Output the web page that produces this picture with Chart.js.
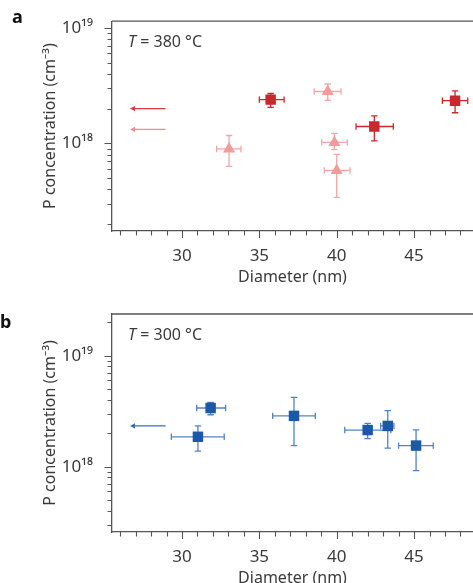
<!DOCTYPE html>
<html>
<head>
<meta charset="utf-8">
<script src="https://cdn.jsdelivr.net/npm/chart.js@4.4.1/dist/chart.umd.min.js"></script>
<style>
  html, body { margin: 0; padding: 0; background: #fff; width: 473px; height: 583px; overflow: hidden; }
  .panel { position: absolute; left: 0; width: 473px; }
  #wrapA { top: 0; height: 290px; }
  #wrapB { top: 290px; height: 301px; }
</style>
</head>
<body>
<div class="panel" id="wrapA"><canvas id="chartA" width="473" height="290"></canvas></div>
<div class="panel" id="wrapB"><canvas id="chartB" width="473" height="301"></canvas></div>
<script>
// ---- shared axis ticks ----
const diameterTicks = [26, 27, 28, 29, 30, 31, 32, 33, 34, 35, 36, 37, 38, 39, 40, 41, 42, 43, 44, 45, 46, 47, 48];
const diameterLabels = [30, 35, 40, 45];
const concDecades = [1e18, 1e19];

// ---- panel a: T = 380 °C ----
const concMinorA = [2e17, 3e17, 4e17, 5e17, 6e17, 7e17, 8e17, 9e17,
                    2e18, 3e18, 4e18, 5e18, 6e18, 7e18, 8e18, 9e18];

// squares
const sqA_d   = [35.73, 42.43, 47.65];
const sqA_dLo = [35.00, 41.25, 46.83];
const sqA_dHi = [36.60, 43.66, 48.47];
const sqA_p   = [2.39e18, 1.40e18, 2.34e18];
const sqA_pLo = [2.05e18, 1.05e18, 1.84e18];
const sqA_pHi = [2.70e18, 1.73e18, 2.85e18];

// triangles
const triA_d   = [33.04, 39.42, 39.85, 40.00];
const triA_dLo = [32.24, 38.55, 39.03, 39.20];
const triA_dHi = [33.81, 40.28, 40.68, 40.86];
const triA_p   = [8.96e17, 2.81e18, 1.02e18, 5.84e17];
const triA_pLo = [6.34e17, 2.35e18, 8.85e17, 3.42e17];
const triA_pHi = [1.17e18, 3.26e18, 1.22e18, 8.04e17];

// reference levels (arrows)
const arrowA_p = [2.0e18, 1.32e18];

// ---- panel b: T = 300 °C ----
const concMinorB = [3e17, 4e17, 5e17, 6e17, 7e17, 8e17, 9e17,
                    2e18, 3e18, 4e18, 5e18, 6e18, 7e18, 8e18, 9e18, 2e19];

const sqB_d   = [31.03, 31.85, 37.24, 42.00, 43.30, 45.13];
const sqB_dLo = [29.31, 30.95, 35.86, 40.52, 42.84, 44.00];
const sqB_dHi = [32.73, 32.82, 38.62, 43.50, 43.70, 46.24];
const sqB_p   = [1.86e18, 3.38e18, 2.87e18, 2.14e18, 2.33e18, 1.55e18];
const sqB_pLo = [1.38e18, 2.94e18, 1.55e18, 1.79e18, 1.47e18, 9.2e17];
const sqB_pHi = [2.33e18, 3.80e18, 4.22e18, 2.46e18, 3.20e18, 2.15e18];

const arrowB_p = [2.33e18];
const arrowSpan = [28.94, 26.64]; // tail, head (nm)

// ---- styling ----
const DARK_RED = '#c9282d';
const PINK = '#f29b9b';
const BLUE = '#1b58a7';
const TEXT = '#3b3b3b';
const AXIS = '#555555';
const FONT = '"Noto Sans", "Open Sans", sans-serif';

const isDecade = v => Math.abs(Math.log10(v) - Math.round(Math.log10(v))) < 1e-9;
const supers = { '0': '⁰', '1': '¹', '2': '²', '3': '³', '4': '⁴', '5': '⁵', '6': '⁶', '7': '⁷', '8': '⁸', '9': '⁹' };
const decadeLabel = v => '10' + String(Math.round(Math.log10(v))).split('').map(c => supers[c]).join('');

function makeDecor(cfg) {
  return {
    id: 'decor',
    beforeDatasetsDraw(chart) {
      const ctx = chart.ctx, xs = chart.scales.x, ys = chart.scales.y;
      cfg.bars.forEach(b => {
        ctx.save();
        ctx.strokeStyle = b.color;
        ctx.lineWidth = 1.3;
        const c = 3.2;
        for (let i = 0; i < b.d.length; i++) {
          const px = xs.getPixelForValue(b.d[i]), py = ys.getPixelForValue(b.p[i]);
          const x0 = xs.getPixelForValue(b.dLo[i]), x1 = xs.getPixelForValue(b.dHi[i]);
          const y0 = ys.getPixelForValue(b.pLo[i]), y1 = ys.getPixelForValue(b.pHi[i]);
          ctx.beginPath();
          ctx.moveTo(x0, py); ctx.lineTo(x1, py);
          ctx.moveTo(x0, py - c); ctx.lineTo(x0, py + c);
          ctx.moveTo(x1, py - c); ctx.lineTo(x1, py + c);
          ctx.moveTo(px, y0); ctx.lineTo(px, y1);
          ctx.moveTo(px - c, y0); ctx.lineTo(px + c, y0);
          ctx.moveTo(px - c, y1); ctx.lineTo(px + c, y1);
          ctx.stroke();
        }
        ctx.restore();
      });
    },
    afterDraw(chart) {
      const ctx = chart.ctx, xs = chart.scales.x, ys = chart.scales.y;
      const area = chart.chartArea;
      ctx.save();
      // frame top line
      ctx.strokeStyle = AXIS;
      ctx.lineWidth = 1.3;
      ctx.beginPath();
      ctx.moveTo(area.left, area.top); ctx.lineTo(area.right, area.top);
      ctx.stroke();
      // x tick marks
      ctx.lineWidth = 1.1;
      ctx.beginPath();
      diameterTicks.forEach(v => {
        const px = Math.round(xs.getPixelForValue(v)) + 0.5;
        const len = diameterLabels.includes(v) ? 7 : 4.5;
        ctx.moveTo(px, area.bottom); ctx.lineTo(px, area.bottom + len);
      });
      // y tick marks
      cfg.minor.forEach(v => {
        const py = Math.round(ys.getPixelForValue(v)) + 0.5;
        ctx.moveTo(area.left, py); ctx.lineTo(area.left - 4.5, py);
      });
      concDecades.forEach(v => {
        const py = Math.round(ys.getPixelForValue(v)) + 0.5;
        ctx.moveTo(area.left, py); ctx.lineTo(area.left - 7.5, py);
      });
      ctx.stroke();
      // reference-level arrows
      cfg.arrows.forEach(a => {
        const xt = xs.getPixelForValue(arrowSpan[0]), xh = xs.getPixelForValue(arrowSpan[1]);
        const py = ys.getPixelForValue(a.p);
        ctx.strokeStyle = a.color; ctx.fillStyle = a.color;
        ctx.lineWidth = 1.3;
        ctx.beginPath(); ctx.moveTo(xt, py); ctx.lineTo(xh + 3, py); ctx.stroke();
        ctx.beginPath();
        ctx.moveTo(xh, py); ctx.lineTo(xh + 5, py - 2.6); ctx.lineTo(xh + 5, py + 2.6);
        ctx.closePath(); ctx.fill();
      });
      // panel letter
      ctx.fillStyle = '#111';
      ctx.textBaseline = 'middle';
      ctx.textAlign = 'left';
      ctx.font = 'bold 18px ' + FONT;
      ctx.fillText(cfg.letter, cfg.letterX, cfg.letterY);
      // temperature note
      ctx.fillStyle = TEXT;
      ctx.font = 'italic 16px ' + FONT;
      const tx = area.left + 16, ty = area.top + 21;
      ctx.fillText('T', tx, ty);
      const w = ctx.measureText('T').width;
      ctx.font = '16px ' + FONT;
      ctx.fillText(' = ' + cfg.temp + ' °C', tx + w, ty);
      ctx.restore();
    }
  };
}

function makeChart(id, cfg) {
  const datasets = cfg.series.map(s => ({
    data: s.d.map((d, i) => ({ x: d, y: s.p[i] })),
    pointStyle: s.style,
    pointRadius: s.radius,
    pointHoverRadius: s.radius,
    backgroundColor: s.color,
    borderColor: s.color,
    borderWidth: 0,
    showLine: false
  }));
  return new Chart(document.getElementById(id), {
    type: 'scatter',
    data: { datasets },
    plugins: [makeDecor(cfg)],
    options: {
      responsive: false,
      animation: false,
      events: [],
      layout: { autoPadding: false, padding: { left: 38, top: cfg.padTop, right: 0, bottom: 0 } },
      plugins: { legend: { display: false }, tooltip: { enabled: false } },
      scales: {
        x: {
          type: 'linear',
          min: 25.475,
          max: 48.81,
          afterBuildTicks: s => { s.ticks = diameterTicks.map(v => ({ value: v })); },
          afterFit: s => { s.height = 59; },
          grid: { display: false },
          border: { display: true, color: AXIS, width: 1.3 },
          ticks: {
            autoSkip: false, maxRotation: 0,
            padding: 7,
            color: TEXT,
            font: { family: FONT, size: 17 },
            callback: v => diameterLabels.includes(v) ? String(v) : ''
          },
          title: {
            display: true, text: 'Diameter (nm)', color: TEXT,
            font: { family: FONT, size: 16 },
            padding: { top: 0, bottom: 3 }
          }
        },
        y: {
          type: 'logarithmic',
          min: cfg.yMin,
          max: cfg.yMax,
          afterBuildTicks: s => { s.ticks = cfg.minor.concat(concDecades).sort((a, b) => a - b).map(v => ({ value: v })); },
          afterFit: s => { s.width = 74; },
          grid: { display: false },
          border: { display: true, color: AXIS, width: 1.3 },
          ticks: {
            autoSkip: false,
            padding: 11,
            color: TEXT,
            font: { family: FONT, size: 17 },
            callback: v => isDecade(v) ? decadeLabel(v) : ''
          },
          title: {
            display: true, text: 'P concentration (cm⁻³)', color: TEXT,
            font: { family: FONT, size: 16 },
            padding: { top: 3, bottom: 0 }
          }
        }
      }
    }
  });
}

makeChart('chartA', {
  letter: 'a', letterX: 12, letterY: 18,
  temp: '380',
  padTop: 14,
  yMin: 1.75e17, yMax: 1.138e19,
  minor: concMinorA,
  series: [
    { d: triA_d, p: triA_p, style: 'triangle', radius: 7, color: PINK },
    { d: sqA_d, p: sqA_p, style: 'rect', radius: 7.4, color: DARK_RED }
  ],
  bars: [
    { d: triA_d, p: triA_p, dLo: triA_dLo, dHi: triA_dHi, pLo: triA_pLo, pHi: triA_pHi, color: 'rgba(240,150,150,0.85)' },
    { d: sqA_d, p: sqA_p, dLo: sqA_dLo, dHi: sqA_dHi, pLo: sqA_pLo, pHi: sqA_pHi, color: DARK_RED }
  ],
  arrows: [
    { p: arrowA_p[0], color: '#d83c43' },
    { p: arrowA_p[1], color: '#f08e8e' }
  ]
});

makeChart('chartB', {
  letter: 'b', letterX: 0, letterY: 33,
  temp: '300',
  padTop: 24,
  yMin: 2.58e17, yMax: 2.377e19,
  minor: concMinorB,
  series: [
    { d: sqB_d, p: sqB_p, style: 'rect', radius: 7.4, color: BLUE }
  ],
  bars: [
    { d: sqB_d, p: sqB_p, dLo: sqB_dLo, dHi: sqB_dHi, pLo: sqB_pLo, pHi: sqB_pHi, color: 'rgba(40,100,180,0.8)' }
  ],
  arrows: [
    { p: arrowB_p[0], color: '#3a6db6' }
  ]
});
</script>
</body>
</html>
